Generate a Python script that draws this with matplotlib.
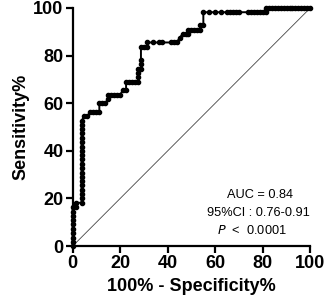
import matplotlib
matplotlib.use("Agg")
import matplotlib.pyplot as plt

plt.rcParams['font.family'] = ['Liberation Sans', 'DejaVu Sans']

# ROC curve points (100% - Specificity%, Sensitivity%)
fpr = [0, 0, 0, 0, 0, 0, 0, 0, 0, 0,
       1.25, 1.25, 3.75,
       3.75, 3.75, 3.75, 3.75, 3.75, 3.75, 3.75, 3.75, 3.75, 3.75,
       3.75, 3.75, 3.75, 3.75, 3.75, 3.75, 3.75, 3.75, 3.75,
       5, 6.25, 7.5, 8.75, 10, 11.25, 11.25, 12.5, 13.75,
       15, 15, 16.25, 17.5, 18.75, 20,
       21.25, 22.5, 22.5, 23.75, 25, 26.25, 27.5, 27.5, 27.5, 27.5,
       28.75, 28.75, 28.75, 28.75, 30, 31.25,
       31.25, 33.75, 36.25, 37.5, 41.25, 42.5, 43.75,
       45, 46.25, 47.5, 48.75, 48.75, 50, 51.25, 52.5, 53.75, 53.75, 55, 55,
       57.5, 60, 62.5, 65, 66.25, 67.5, 68.75, 70,
       73.75, 75, 76.25, 77.5, 78.75, 80, 81.25, 81.25,
       82.5, 83.75, 85, 86.25, 87.5, 88.75, 90, 91.25, 92.5, 93.75,
       95, 96.25, 97.5, 98.75, 100]
tpr = [0, 1.8, 3.6, 5.5, 7.3, 9.1, 10.9, 12.7, 14.5, 16.4,
       16.4, 18.2, 18.2,
       20.0, 21.8, 23.6, 25.5, 27.3, 29.1, 30.9, 32.7, 34.5, 36.4,
       38.2, 40.0, 41.8, 43.6, 45.5, 47.3, 49.1, 50.9, 52.7,
       54.5, 54.5, 56.4, 56.4, 56.4, 56.4, 60.0, 60.0, 60.0,
       61.8, 63.6, 63.6, 63.6, 63.6, 63.6,
       65.5, 65.5, 69.1, 69.1, 69.1, 69.1, 69.1, 70.9, 72.7, 74.5,
       74.5, 76.4, 78.2, 83.6, 83.6, 83.6,
       85.5, 85.5, 85.5, 85.5, 85.5, 85.5, 85.5,
       87.3, 89.1, 89.1, 89.1, 90.9, 90.9, 90.9, 90.9, 90.9, 92.7, 92.7, 98.2,
       98.2, 98.2, 98.2, 98.2, 98.2, 98.2, 98.2, 98.2,
       98.2, 98.2, 98.2, 98.2, 98.2, 98.2, 98.2, 100,
       100, 100, 100, 100, 100, 100, 100, 100, 100, 100,
       100, 100, 100, 100, 100]

ticks = [0, 20, 40, 60, 80, 100]
auc_text = ["AUC = 0.84", "95%CI : 0.76-0.91", "$\\mathit{P}$  <  0.0001"]

fig = plt.figure(figsize=(3.27, 3.05), dpi=100)
ax = fig.add_axes([0.222, 0.193, 0.727, 0.781])

ax.plot([0, 100], [0, 100], color='#444444', lw=0.6, clip_on=False)
ax.plot(fpr, tpr, color='black', lw=1.4, marker='o', markersize=3.0,
        clip_on=False, zorder=3)

ax.set_xlim(0, 100)
ax.set_ylim(0, 100)
ax.set_xticks(ticks)
ax.set_yticks(ticks)
ax.set_xticklabels([str(t) for t in ticks], fontweight='bold', fontsize=13)
ax.set_yticklabels([str(t) for t in ticks], fontweight='bold', fontsize=13)
for s in ['top', 'right']:
    ax.spines[s].set_visible(False)
for s in ['left', 'bottom']:
    ax.spines[s].set_linewidth(1.6)
ax.tick_params(width=1.6, length=5, pad=1.5)

ax.set_xlabel("100% - Specificity%", fontweight='bold', fontsize=13, labelpad=4)
ax.set_ylabel("Sensitivity%", fontweight='bold', fontsize=13, labelpad=3)

xs = [79.0, 78.0, 75.5]
ys = [21.4, 13.9, 6.6]
for t, x, y in zip(auc_text, xs, ys):
    ax.text(x, y, t, ha='center', va='center', fontsize=9.2)

fig.savefig("out.png", dpi=100)
